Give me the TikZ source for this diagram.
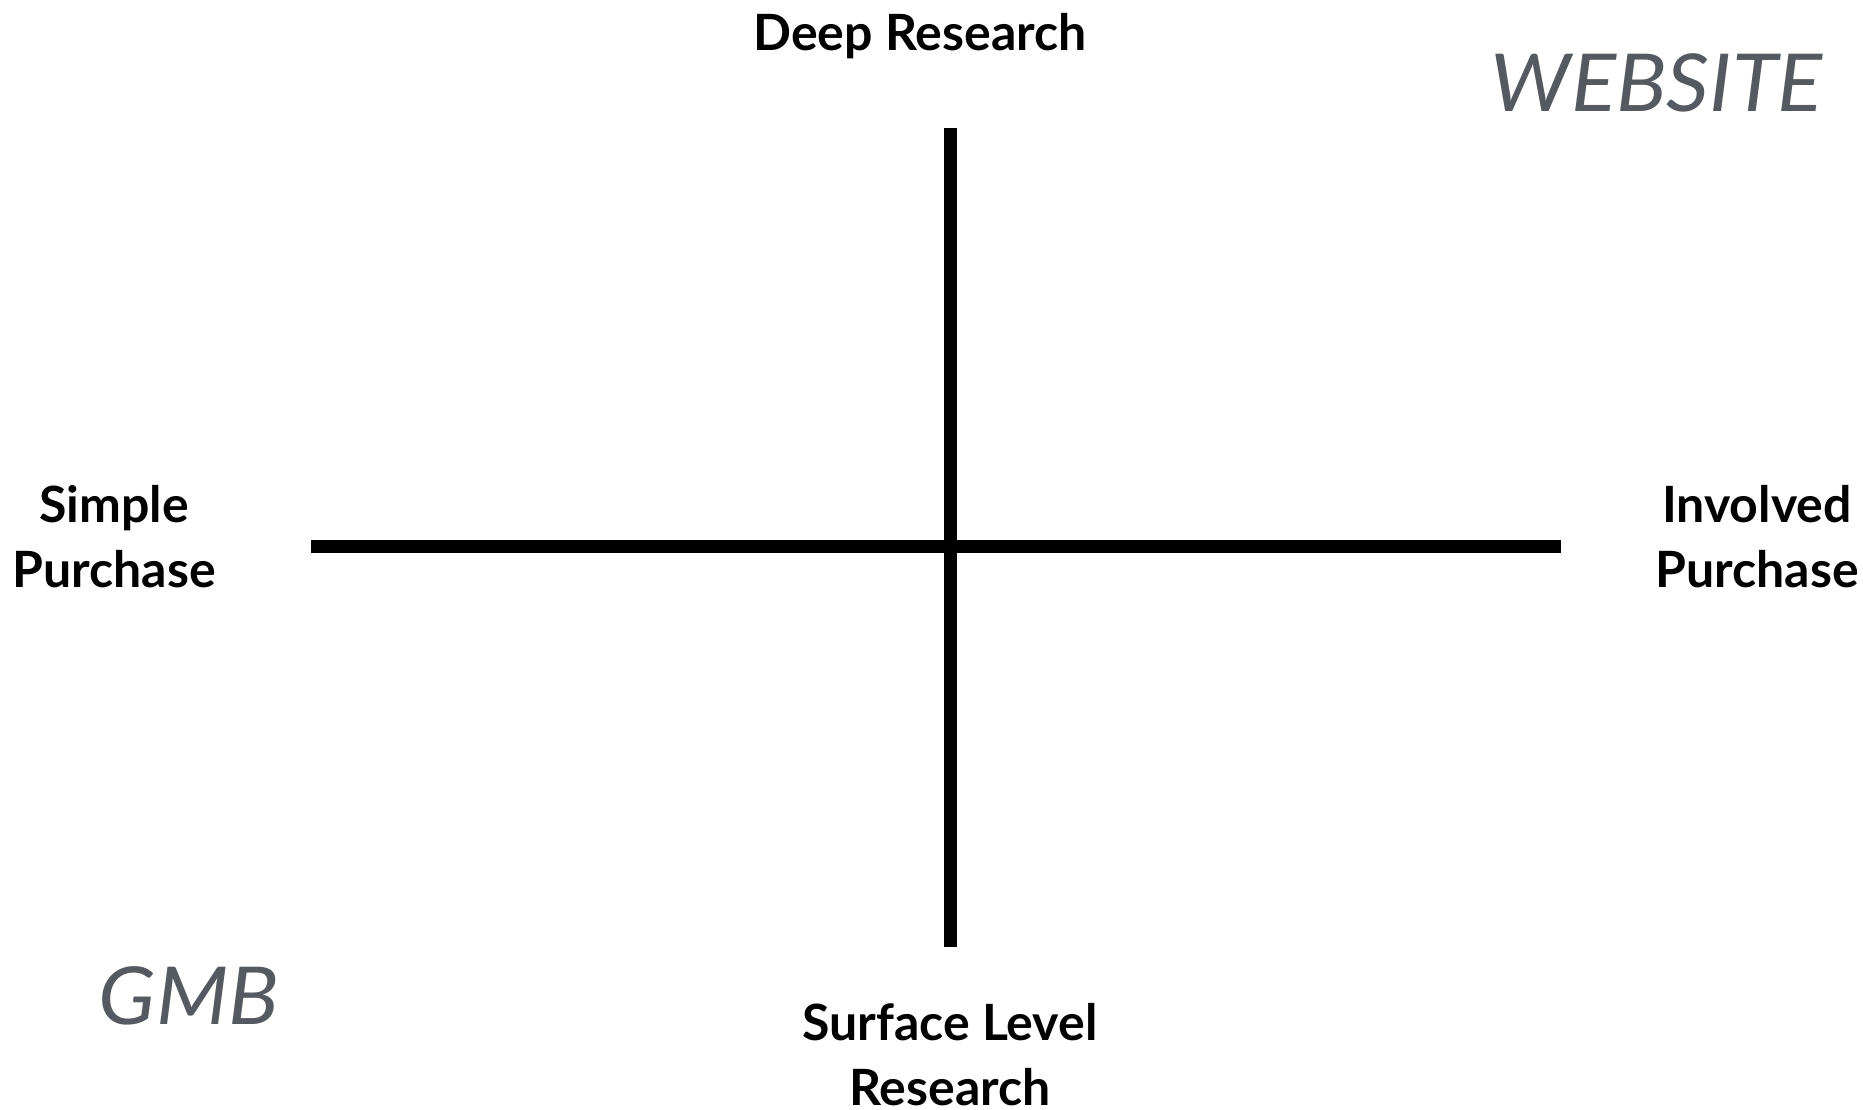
\documentclass[tikz,border=0pt]{standalone}
\usepackage{fontspec}
\setmainfont{Lato}
\definecolor{labelgray}{RGB}{85,90,96}
\begin{document}
\begin{tikzpicture}[x=1pt,y=-1pt,
  axis/.style={line width=13pt,black},
  axlabel/.style={font=\fontsize{50}{65}\selectfont\bfseries,inner sep=0pt,align=center,anchor=base},
  corner/.style={font=\fontsize{80}{90}\selectfont\itshape,text=labelgray,inner sep=0pt,anchor=base}]
\useasboundingbox[fill=white] (0,0) rectangle (1863,1110);
\coordinate (top) at (950,128);
\coordinate (bottom) at (950,947);
\coordinate (left) at (311,546);
\coordinate (right) at (1561,546);
\draw[axis] (top) -- (bottom);
\draw[axis] (left) -- (right);
\node[axlabel] (deep) at (920,51) {Deep Research};
\node[axlabel] (simple) at (114,587) {Simple\\Purchase};
\node[axlabel] (involved) at (1757,587) {Involved\\Purchase};
\node[axlabel] (surface) at (950,1105) {Surface Level\\Research};
\node[corner,xscale=1.05] (website) at (1657,112) {WEBSITE};
\node[corner,xscale=1.05] (gmb) at (189,1024) {GMB};
\end{tikzpicture}
\end{document}
